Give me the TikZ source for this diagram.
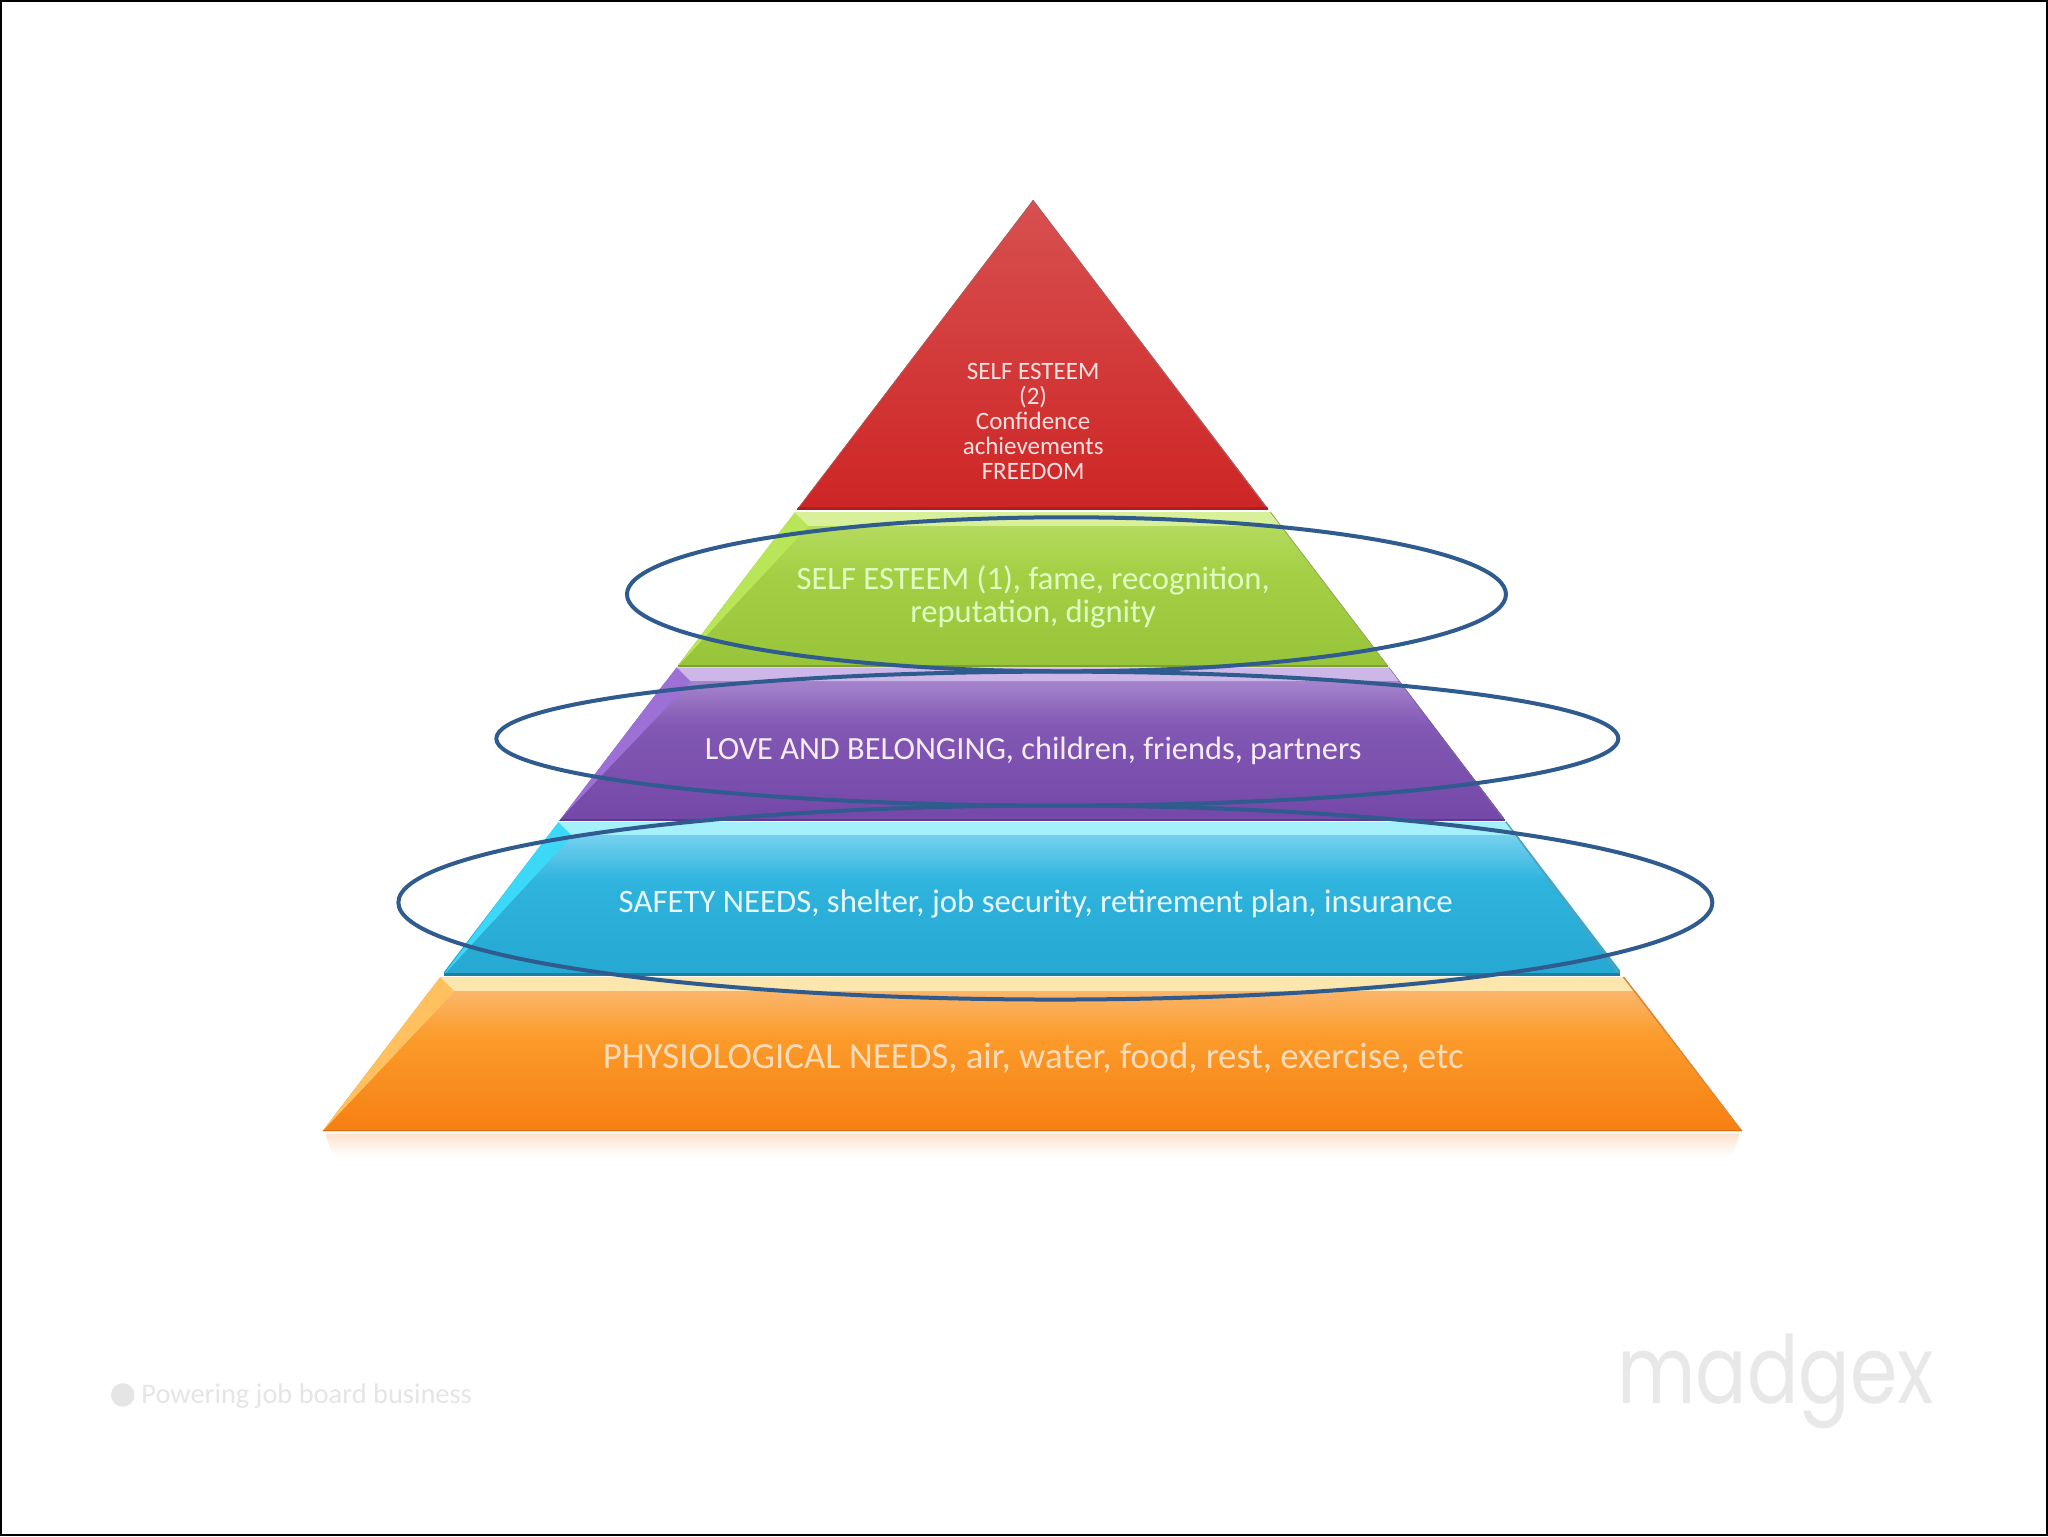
\documentclass[tikz,border=0pt]{standalone}
\usepackage{fontspec}
\setmainfont{Carlito}
\newfontfamily\logofont[FakeStretch=0.81]{Poppins}
\usetikzlibrary{shapes.geometric}
\definecolor{orband}{HTML}{FBE6AE}\definecolor{ortop}{HTML}{FBB56A}\definecolor{ormid}{HTML}{FB9C2C}\definecolor{orbot}{HTML}{F77F12}\definecolor{orleft}{HTML}{FFC060}\definecolor{orright}{HTML}{D98A40}\definecolor{orline}{HTML}{DE6E10}
\definecolor{cyband}{HTML}{A5F0FA}\definecolor{cytop}{HTML}{74D0EE}\definecolor{cymid}{HTML}{2FB4DE}\definecolor{cybot}{HTML}{25A8D2}\definecolor{cyleft}{HTML}{3CD8F7}\definecolor{cyright}{HTML}{5A9FB4}\definecolor{cyline}{HTML}{1C7F9E}
\definecolor{puband}{HTML}{CDB6E8}\definecolor{putop}{HTML}{A583CC}\definecolor{pumid}{HTML}{8258B4}\definecolor{pubot}{HTML}{7448A8}\definecolor{puleft}{HTML}{9D70D6}\definecolor{puright}{HTML}{7A6498}\definecolor{puline}{HTML}{5E3A8A}
\definecolor{grband}{HTML}{D9F09A}\definecolor{grtop}{HTML}{B4DA5E}\definecolor{grmid}{HTML}{A5D046}\definecolor{grbot}{HTML}{98C43A}\definecolor{grleft}{HTML}{B8E658}\definecolor{grright}{HTML}{8FA860}\definecolor{grline}{HTML}{7F9F34}
\definecolor{retop}{HTML}{D85050}\definecolor{remid}{HTML}{E04040}\definecolor{rebot}{HTML}{CE2525}\definecolor{reline}{HTML}{A82020}\definecolor{reright}{HTML}{A86060}
\definecolor{ringblue}{HTML}{2F5B8F}
\tikzset{
  x=0.653061pt,y=-0.653061pt,
  tierlabel/.style={align=center,inner sep=0pt,font=\fontsize{#1}{#1}\selectfont},
  ring/.style={ellipse,draw=ringblue,line width=2pt,inner sep=0pt},
  wm/.style={text=black!10,inner sep=0pt,anchor=west}
}
% top y, bottom y, top-left x, top-right x, bottom-left x, bottom-right x, colour prefix
\newcommand{\tier}[7]{%
  \fill[#7band] (#3,#1) -- (#4,#1) -- (#6,#2) -- (#5,#2) -- cycle;
  \shade[top color=#7mid,bottom color=#7bot] (#5,{#1+44}) rectangle (#6,#2);
  \shade[top color=#7top,bottom color=#7mid] (#5,{#1+11}) rectangle (#6,{#1+44.5});
  \fill[#7left] (#3,#1) -- ({#3+11},{#1+11}) -- (#5,#2) -- cycle;
  \draw[#7right,line width=0.8pt] (#4,#1) -- (#6,#2);
  \draw[#7line,line width=1.2pt] (#5,#2) -- (#6,#2);
}
\begin{document}
\begin{tikzpicture}
\useasboundingbox (0,0) rectangle (1568,1176);
\fill[white] (0,0) rectangle (1568,1176);
\draw[black,line width=1.2pt] (0.8,0.8) rectangle (1567.2,1175.2);
% reflection
\shade[top color={rgb,255:red,255;green,226;blue,205},bottom color=white] (249,868) -- (1332,868) -- (1326,885) -- (255,885) -- cycle;
% tiers, clipped to the pyramid's outline
\begin{scope}
\clip (791,153) -- (1334,866) -- (247,866) -- cycle;
\tier{748}{866}{337}{1243}{247}{1334}{or}
\tier{629}{746}{427}{1153}{340}{1240}{cy}
\tier{511}{628}{518}{1064}{428}{1152}{pu}
\tier{392}{510}{608}{973}{519}{1063}{gr}
\shade[top color=retop,middle color=remid,bottom color=rebot]
  (791,153) -- (971,390) -- (610,390) -- cycle;
\draw[reright,line width=0.8pt] (791,153) -- (971,390);
\draw[reright,line width=0.8pt] (791,153) -- (610,390);
\draw[reline,line width=1.6pt] (610,389.5) -- (971,389.5);
\end{scope}
% labels
\node[tierlabel=12.5,text=white!88!red] (apexlabel) at (791,323) {\baselineskip=12.7pt SELF ESTEEM\\[0pt](2)\\[0pt]Confidence\\[0pt]achievements\\[0pt]FREEDOM};
\node[tierlabel=16.3,text=white!85!green!90!yellow] (esteemlabel) at (791,457) {\baselineskip=16.3pt SELF ESTEEM (1), fame, recognition,\\reputation, dignity};
\node[tierlabel=16.2,text=white!92!violet] (lovelabel) at (791,575) {LOVE AND BELONGING, children, friends, partners};
\node[tierlabel=16.4,text=white!90!cyan] (safetylabel) at (793,692) {SAFETY NEEDS, shelter, job security, retirement plan, insurance};
\node[tierlabel=18.4,text=white!72!orange] (physiolabel) at (791,810) {PHYSIOLOGICAL NEEDS, air, water, food, rest, exercise, etc};
% rings
\node[ring,minimum width=439.5pt,minimum height=77pt] (ringesteem) at (816.5,455) {};
\node[ring,minimum width=561pt,minimum height=67pt] (ringlove) at (809.5,565.5) {};
\node[ring,minimum width=657pt,minimum height=97pt] (ringsafety) at (808,691) {};
% watermark
\fill[black!10] (94,1068) circle (9);
\node[wm,font=\fontsize{14.2}{14.2}\selectfont] (tagline) at (108,1069) {Powering job board business};
\node[wm,font=\logofont\fontsize{47}{47}\selectfont,text=black!9] (logo) at (1238,1058) {madgex};
\end{tikzpicture}
\end{document}
